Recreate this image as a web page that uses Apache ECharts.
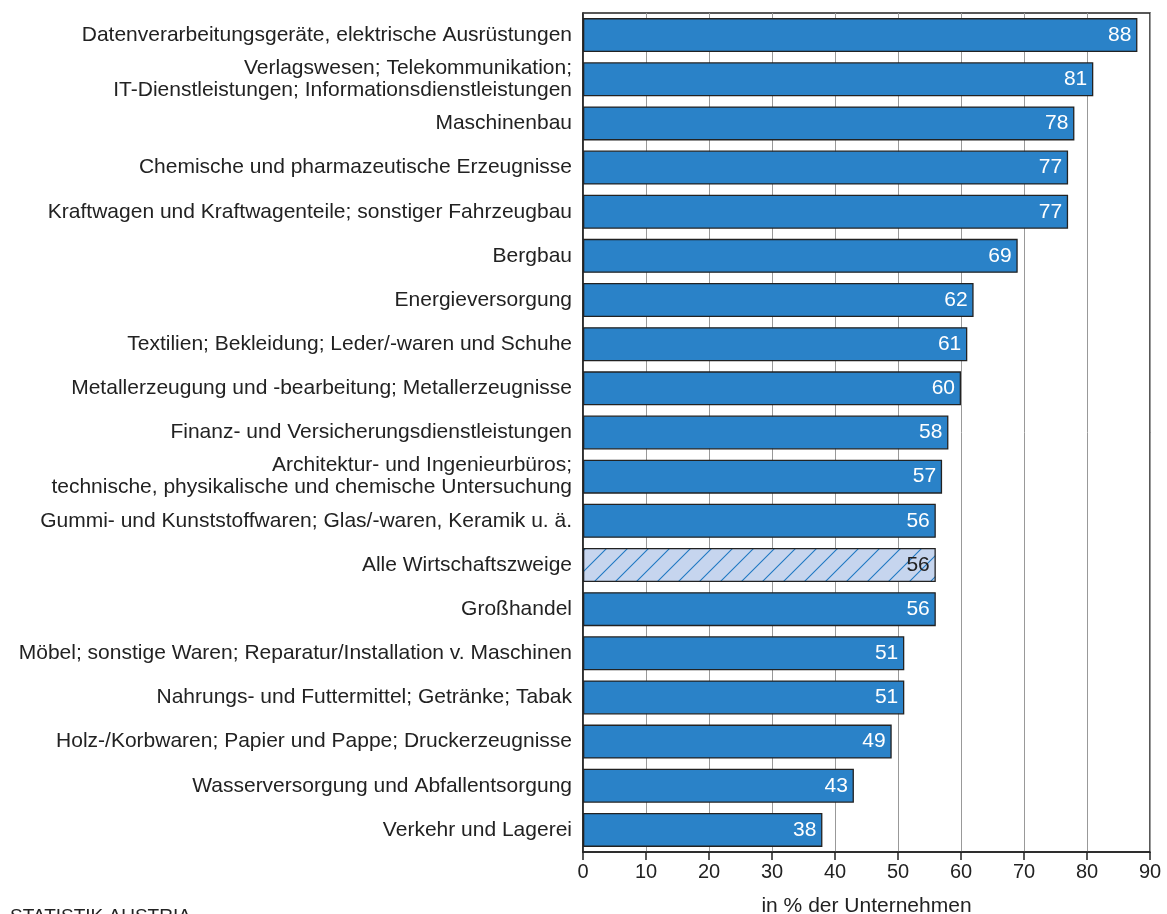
<!DOCTYPE html>
<html>
<head>
<meta charset="utf-8">
<script src="https://cdn.jsdelivr.net/npm/echarts@6/dist/echarts.min.js"></script>
<style>
  html, body { margin: 0; padding: 0; background: #fff; }
  #chart { width: 1167px; height: 914px; }
</style>
</head>
<body>
<div id="chart"></div>
<script>
const categories = [
  'Datenverarbeitungsgeräte, elektrische Ausrüstungen',
  'Verlagswesen; Telekommunikation;\nIT-Dienstleistungen; Informationsdienstleistungen',
  'Maschinenbau',
  'Chemische und pharmazeutische Erzeugnisse',
  'Kraftwagen und Kraftwagenteile; sonstiger Fahrzeugbau',
  'Bergbau',
  'Energieversorgung',
  'Textilien; Bekleidung; Leder/-waren und Schuhe',
  'Metallerzeugung und -bearbeitung; Metallerzeugnisse',
  'Finanz- und Versicherungsdienstleistungen',
  'Architektur- und Ingenieurbüros;\ntechnische, physikalische und chemische Untersuchung',
  'Gummi- und Kunststoffwaren; Glas/-waren, Keramik u. ä.',
  'Alle Wirtschaftszweige',
  'Großhandel',
  'Möbel; sonstige Waren; Reparatur/Installation v. Maschinen',
  'Nahrungs- und Futtermittel; Getränke; Tabak',
  'Holz-/Korbwaren; Papier und Pappe; Druckerzeugnisse',
  'Wasserversorgung und Abfallentsorgung',
  'Verkehr und Lagerei'
];
const values = [88, 81, 78, 77, 77, 69, 62, 61, 60, 58, 57, 56, 56, 56, 51, 51, 49, 43, 38];
const totalCategory = 'Alle Wirtschaftszweige';

// Schraffur für "Alle Wirtschaftszweige"
const hatch = document.createElement('canvas');
hatch.width = 21;
hatch.height = 21;
const hc = hatch.getContext('2d');
hc.fillStyle = '#c6d5ee';
hc.fillRect(0, 0, 21, 21);
hc.strokeStyle = '#1f78c2';
hc.lineWidth = 1.1;
hc.beginPath();
hc.moveTo(0, 21); hc.lineTo(21, 0);
hc.moveTo(-5, 5); hc.lineTo(5, -5);
hc.moveTo(16, 26); hc.lineTo(26, 16);
hc.stroke();

const chart = echarts.init(document.getElementById('chart'));
const font = 'Liberation Sans, Arial, sans-serif';

chart.setOption({
  animation: false,
  textStyle: { fontFamily: font },
  grid: {
    left: 583, right: 17, top: 13, bottom: 62,
    outerBoundsMode: 'none',
    show: true, borderColor: '#222', borderWidth: 1.5
  },
  xAxis: {
    type: 'value', min: 0, max: 90, interval: 10,
    name: 'in % der Unternehmen', nameLocation: 'middle', nameGap: 44,
    nameTextStyle: { fontSize: 21, color: '#222', fontFamily: font },
    axisLine: { show: true, lineStyle: { color: '#222', width: 1.5 } },
    axisTick: { show: true, length: 8, lineStyle: { color: '#222', width: 1.5 } },
    axisLabel: { fontSize: 20, color: '#222', margin: 10, fontFamily: font },
    splitLine: { show: true, lineStyle: { color: '#999', width: 1 } }
  },
  yAxis: {
    type: 'category', inverse: true, data: categories,
    axisLine: { show: true, lineStyle: { color: '#222', width: 1.5 } },
    axisTick: { show: false },
    axisLabel: { fontSize: 21, color: '#222', margin: 11, lineHeight: 22, fontFamily: font }
  },
  graphic: [{
    type: 'text', left: 10, top: 907,
    style: { text: 'STATISTIK AUSTRIA', fontSize: 19, fill: '#222', fontFamily: font }
  }],
  series: [{
    type: 'bar',
    barCategoryGap: '23%',
    data: values.map((v, i) => {
      if (categories[i] === totalCategory) {
        return {
          value: v,
          itemStyle: { color: { image: hatch, repeat: 'repeat' } },
          label: { color: '#222' }
        };
      }
      return v;
    }),
    itemStyle: { color: '#2a82c8', borderColor: '#222', borderWidth: 1.3 },
    label: {
      show: true, position: 'insideRight', distance: 6,
      color: '#fff', fontSize: 21, fontFamily: font
    }
  }]
});
</script>
</body>
</html>
